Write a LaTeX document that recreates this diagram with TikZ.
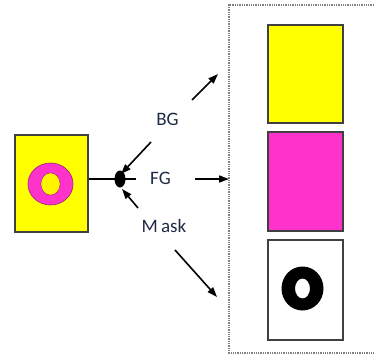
\documentclass[tikz,border=0pt]{standalone}
\usepackage{fontspec}
\setmainfont{Carlito}
\usetikzlibrary{arrows.meta}
\definecolor{myyellow}{HTML}{FFFF00}
\definecolor{mymag}{HTML}{FF33CC}
\definecolor{frame}{HTML}{404040}
\definecolor{txt}{HTML}{1F2A44}
\begin{document}
\begin{tikzpicture}[x=1pt,y=-1pt,
  panel/.style={draw=frame,line width=1.5pt},
  lbl/.style={font=\fontsize{19}{21}\selectfont,text=txt,inner sep=0pt},
  arr/.style={line width=1.6pt,-{Triangle[length=10pt,width=7pt]}},
  ln/.style={line width=1.6pt}]
\useasboundingbox (0,0) rectangle (374,356);
% outer dotted frame
\draw[gray,densely dotted,line width=1.3pt] (374,5) -- (229,5) -- (229,353) -- (374,353);
% input image
\node[panel,fill=myyellow,minimum width=73pt,minimum height=97pt,inner sep=0pt,anchor=north west] (src) at (14,134) {};
\fill[mymag,draw=mymag!60!black,line width=0.6pt,even odd rule]
  (50.5,184) ellipse [x radius=22.5,y radius=21] (50.5,184) ellipse [x radius=9.5,y radius=11];
\fill[myyellow!92!orange] (50.5,184) ellipse [x radius=9.2,y radius=10.7];
% outputs
\node[panel,fill=myyellow,minimum width=75pt,minimum height=98pt,inner sep=0pt,anchor=north west] (bgbox) at (267,24) {};
\node[panel,fill=mymag,minimum width=75pt,minimum height=99pt,inner sep=0pt,anchor=north west] (fgbox) at (267,131) {};
\node[panel,fill=white,minimum width=75pt,minimum height=100pt,inner sep=0pt,anchor=north west] (maskbox) at (267,239) {};
\fill[black,even odd rule] (302.5,288.5) ellipse [x radius=21,y radius=22] (302.5,288.5) ellipse [x radius=7.5,y radius=10];
% split point
\coordinate (hub) at (120,179);
\fill (hub) ellipse [x radius=5.5,y radius=8.5];
\coordinate (hubend) at (136,179);
\draw[ln] (src.east |- hub) -- (hubend);
% labels
\node[lbl] (bg) at (167.5,119) {BG};
\node[lbl] (fg) at (160.5,178) {FG};
\node[lbl] (mask) at (164,226) {M\,ask};
% arrows into the hub
\coordinate (bgs) at (151,142);
\coordinate (masks) at (138,208);
\draw[arr] (bgs) -- (121,174);
\draw[arr] (masks) -- (122,189);
% arrows out
\coordinate (bga) at (192,100);
\coordinate (bgb) at (218,74);
\draw[arr] (bga) -- (bgb);
\coordinate (fga) at (195,179);
\draw[arr] (fga) -- (229,179);
\coordinate (maska) at (175,250);
\coordinate (maskb) at (217,297);
\draw[arr] (maska) -- (maskb);
\end{tikzpicture}
\end{document}
